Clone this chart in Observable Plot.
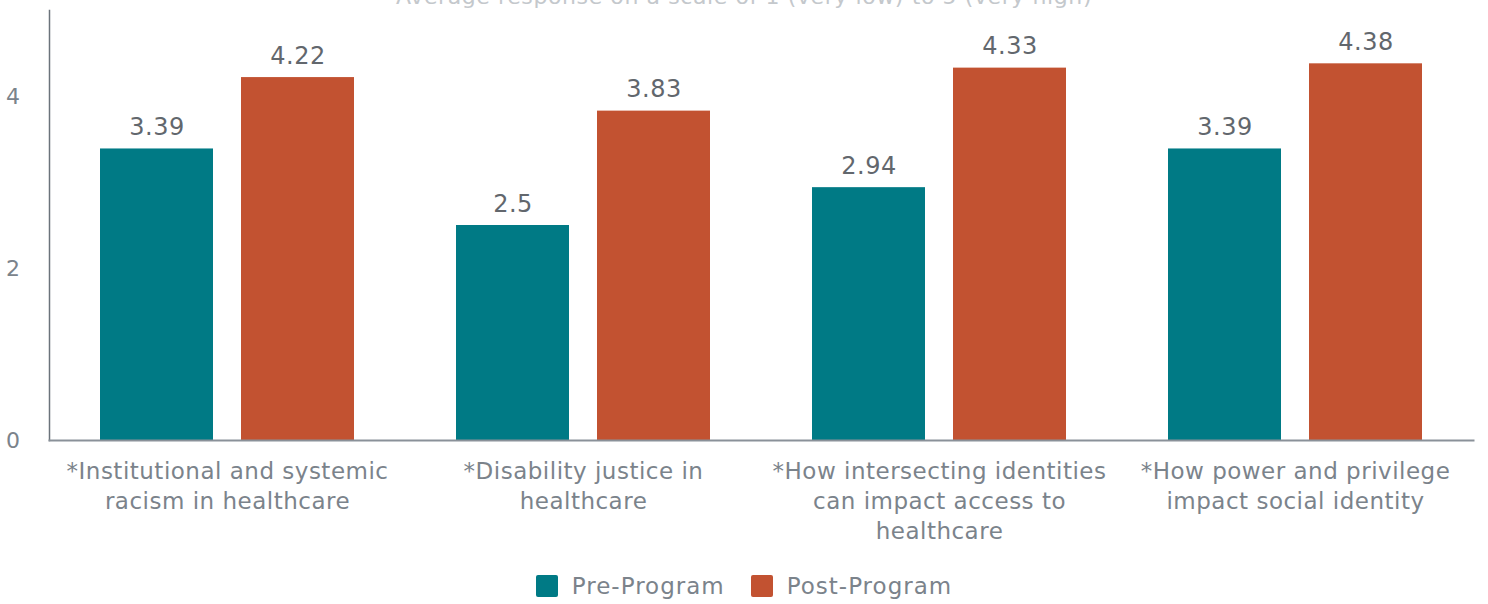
<!DOCTYPE html>
<html>
<head>
<meta charset="utf-8">
<script src="https://cdn.jsdelivr.net/npm/d3@7"></script>
<script src="https://cdn.jsdelivr.net/npm/@observablehq/plot@0.6"></script>
<style>
  html, body { margin: 0; padding: 0; background: #fff; overflow: hidden; }
  body { width: 1488px; height: 604px; font-family: "DejaVu Sans", sans-serif; position: relative; }
  #subtitle { position: absolute; top: -16px; left: 0; width: 1488px; text-align: center; font-size: 22px; letter-spacing: 0.6px; color: #c4c8cc; white-space: nowrap; z-index: 2; }
  #chart { position: absolute; top: 0; left: 0; z-index: 1; }
  #legend { position: absolute; top: 573px; left: 0; width: 1488px; display: flex; justify-content: center; align-items: center; gap: 26px; font-size: 23px; letter-spacing: 1px; color: #7b838b; }
  .item { display: flex; align-items: center; gap: 14px; }
  .sw { width: 22px; height: 22px; border-radius: 2px; }
  svg text.val { letter-spacing: 0; }
</style>
</head>
<body>
<div id="subtitle"></div>
<div id="chart"></div>
<div id="legend"></div>
<script>
const subtitle = "Average response on a scale of 1 (very low) to 5 (very high)";
const categories = [
  "*Institutional and systemic racism in healthcare",
  "*Disability justice in healthcare",
  "*How intersecting identities can impact access to healthcare",
  "*How power and privilege impact social identity"
];
const categoryLabels = [
  "*Institutional and systemic\nracism in healthcare",
  "*Disability justice in\nhealthcare",
  "*How intersecting identities\ncan impact access to\nhealthcare",
  "*How power and privilege\nimpact social identity"
];
const series = ["Pre-Program", "Post-Program"];
const preValues = [3.39, 2.5, 2.94, 3.39];
const postValues = [4.22, 3.83, 4.33, 4.38];
const yTicks = [0, 2, 4];
const colors = ["#007a85", "#c25231"];

const data = [];
categories.forEach((c, i) => {
  data.push({category: c, series: series[0], value: preValues[i]});
  data.push({category: c, series: series[1], value: postValues[i]});
});
const labelOf = new Map(categories.map((c, i) => [c, categoryLabels[i]]));

document.getElementById("subtitle").textContent = subtitle;

const chart = Plot.plot({
  width: 1488,
  height: 545,
  marginLeft: 48,
  marginRight: 15,
  marginTop: 10,
  marginBottom: 105,
  style: {fontFamily: "'DejaVu Sans', sans-serif", fontSize: "22px", color: "#7b838b", background: "#fff", letterSpacing: "0.5px"},
  fx: {domain: categories, paddingInner: 0, paddingOuter: 0, label: null, axis: null},
  x: {domain: series, paddingInner: 0.197, paddingOuter: 0.356, axis: null},
  y: {domain: [0, 5], ticks: yTicks, label: null, axis: null},
  color: {domain: series, range: colors},
  marks: [
    Plot.barY(data, {fx: "category", x: "series", y: "value", fill: "series"}),
    Plot.text(data, {fx: "category", x: "series", y: "value", text: d => String(d.value), lineAnchor: "bottom", dy: -14, fontSize: 24, fill: "#62676d", className: "val"}),
    Plot.axisY({ticks: yTicks, tickSize: 0, tickPadding: 29, tickFormat: d => String(d), textAnchor: "end", fontSize: 22, fill: "#7b838b", label: null}),
    Plot.axisFx({anchor: "bottom", tickSize: 0, tickPadding: 17, tickFormat: d => labelOf.get(d), lineHeight: 1.3, fontSize: 23, fill: "#7b838b", label: null}),
    Plot.frame({anchor: "left", facet: "super", stroke: "#6b737b", strokeWidth: 1.5}),
    Plot.frame({anchor: "bottom", facet: "super", stroke: "#8a9199", strokeWidth: 2})
  ]
});
document.getElementById("chart").appendChild(chart);

const legend = document.getElementById("legend");
series.forEach((s, i) => {
  const item = document.createElement("div");
  item.className = "item";
  const sw = document.createElement("div");
  sw.className = "sw";
  sw.style.background = colors[i];
  const t = document.createElement("span");
  t.textContent = s;
  item.appendChild(sw);
  item.appendChild(t);
  legend.appendChild(item);
});
</script>
</body>
</html>
